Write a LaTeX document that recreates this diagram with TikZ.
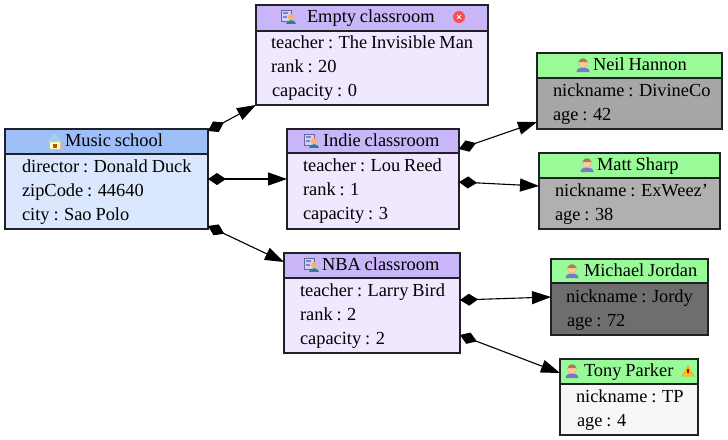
\documentclass[tikz,border=0pt]{standalone}
\usepackage{fontspec}
\setmainfont[WordSpace=0.85]{Liberation Serif}
\usetikzlibrary{arrows.meta,calc}
\definecolor{headB}{HTML}{9DBEF7}
\definecolor{bodyB}{HTML}{DBE7FD}
\definecolor{headP}{HTML}{C8B6F8}
\definecolor{bodyP}{HTML}{EFE8FF}
\definecolor{headG}{HTML}{98FB98}
\definecolor{edge}{HTML}{202028}
\tikzset{
  x=1pt,y=-1pt,
  boxbody/.style={draw=edge,line width=1.3pt,inner sep=0pt,outer sep=0pt,anchor=north west},
  boxrule/.style={edge,line width=1.2pt},
  label/.style={inner sep=0pt,outer sep=0pt,anchor=base west,yshift=-1pt,font=\fontsize{18.4}{20}\selectfont,text=black},
  link/.style={draw=black,line width=1.1pt,{Diamond[length=18pt,width=12pt]}-{Triangle[length=19pt,width=13pt]}},
}
% box: name, x1, y1, x2, y2, header bottom, head colour, body colour
\newcommand{\umlbox}[8]{%
  \node[boxbody,fill=#8,minimum width=#4pt-#2pt,minimum height=#5pt-#3pt] (#1) at (#2,#3) {};
  \fill[#7] (#2+0.6,#3+0.6) rectangle (#4-0.6,#6);
  \draw[boxrule] (#2,#6) -- (#4,#6);
  \draw[draw=edge,line width=1.3pt] (#2,#3) rectangle (#4,#5);
}
\newcommand{\userico}[2]{%
  \begin{scope}[shift={(#1,#2)}]
    \fill[blue!40!gray!75!white] (-6.5,7) .. controls (-7,1) and (7,1) .. (6.5,7) -- cycle;
    \fill[orange!40!white,draw=brown!70!white,line width=0.3pt] (0,-2) circle (4.5);
    \fill[brown!55!gray] (-4.5,-3) .. controls (-3,-8) and (3,-8) .. (4.5,-3) -- cycle;
  \end{scope}}
\newcommand{\classico}[2]{%
  \begin{scope}[shift={(#1,#2)}]
    \fill[blue!18!white,draw=gray!80!blue,line width=0.4pt] (-7,-7) rectangle (3,4);
    \fill[blue!40!gray!70!white] (-5,-5) rectangle (0,-3);
    \fill[blue!40!gray!70!white] (-5,-1) rectangle (-1,1);
    \fill[teal!60!gray] (-2,7) .. controls (-2,2) and (8,2) .. (8,7) -- cycle;
    \fill[orange!60!white] (3,0) circle (3);
  \end{scope}}
\begin{document}
\begin{tikzpicture}
\useasboundingbox (0,0) rectangle (728,439);
\fill[white] (0,0) rectangle (728,439);

\umlbox{music}{5}{129}{208}{229}{154}{headB}{bodyB}
\umlbox{empty}{256}{5}{488}{105}{31}{headP}{bodyP}
\umlbox{indie}{287}{129}{459}{229}{153}{headP}{bodyP}
\umlbox{nba}{284}{253}{460}{353}{278}{headP}{bodyP}
\umlbox{neil}{537}{53}{722}{129}{78}{headG}{black!35}
\umlbox{matt}{539}{153}{720}{229}{178}{headG}{black!31}
\umlbox{jordan}{551}{259}{708}{335}{283}{headG}{black!57}
\umlbox{tony}{560}{359}{698}{435}{384}{headG}{black!3}

% house icon
\fill[yellow!25!white,draw=orange!60!white,line width=0.4pt] (49,141) rectangle (60,149);
\fill[gray!35!cyan!50!white] (47,142) -- (54.5,133) -- (62,142) -- cycle;
\fill[orange!70!black] (52.5,144) rectangle (56.5,148);
\node[label] (t0) at (65,145) {Music school};
\node[label] (t1) at (22,171) {director : Donald Duck};
\node[label] (t2) at (22,195) {zipCode : 44640};
\node[label] (t3) at (22,219) {city : Sao Polo};

\classico{288}{17}
\node[label] (t4) at (307,21) {Empty classroom};
\fill[red!70!white] (459,17) circle (6);
\draw[white,line width=1pt] (457,15) -- (461,19) (461,15) -- (457,19);
\node[label] (t5) at (271,47) {teacher : The Invisible Man};
\node[label] (t6) at (271,71) {rank : 20};
\node[label] (t7) at (272,95) {capacity : 0};

\classico{311}{141}
\node[label] (t8) at (323,145) {Indie classroom};
\node[label] (t9) at (303,170) {teacher : Lou Reed};
\node[label] (t10) at (303,194) {rank : 1};
\node[label] (t11) at (303,218) {capacity : 3};

\classico{311}{265}
\node[label] (t12) at (322,269) {NBA classroom};
\node[label] (t13) at (300,295) {teacher : Larry Bird};
\node[label] (t14) at (300,319) {rank : 2};
\node[label] (t15) at (300,343) {capacity : 2};

\userico{583}{65}
\node[label] (t16) at (593,69) {Neil Hannon};
\node[label] (t17) at (553,95) {nickname : DivineCo};
\node[label] (t18) at (553,119) {age : 42};

\userico{587}{165}
\node[label] (t19) at (597,169) {Matt Sharp};
\node[label] (t20) at (555,195) {nickname : ExWeez'};
\node[label] (t21) at (555,219) {age : 38};

\userico{572}{271}
\node[label] (t22) at (584,275) {Michael Jordan};
\node[label] (t23) at (566,301) {nickname : Jordy};
\node[label] (t24) at (567,325) {age : 72};

\userico{572}{371}
\node[label] (t25) at (584,375) {Tony Parker};
\node[label] (t26) at (576,401) {nickname : TP};
\node[label] (t27) at (577,425) {age : 4};
\fill[yellow!60!orange,draw=orange!80!white,line width=0.5pt] (688,365.5) -- (694,376) -- (682,376) -- cycle;
\fill[red!70!black] (687.4,368.5) rectangle (688.6,372.5);

\draw[link] ($(music.north east)+(0,2)$) -- (empty.south west);
\draw[link] (music.east) -- (indie.west);
\draw[link] ($(music.south east)+(0,-3)$) -- ($(nba.north west)+(0,9)$);
\draw[link] ($(indie.north east)+(0,20)$) -- ($(neil.south west)+(0,-7)$);
\draw[link] (indie.east) ++(0,3) -- ($(matt.south west)+(0,-43)$);
\draw[link] ($(nba.south east)+(0,-53)$) -- ($(jordan.south west)+(0,-38)$);
\draw[link] ($(nba.south east)+(0,-18)$) -- ($(tony.north west)+(0,14)$);
\end{tikzpicture}
\end{document}
